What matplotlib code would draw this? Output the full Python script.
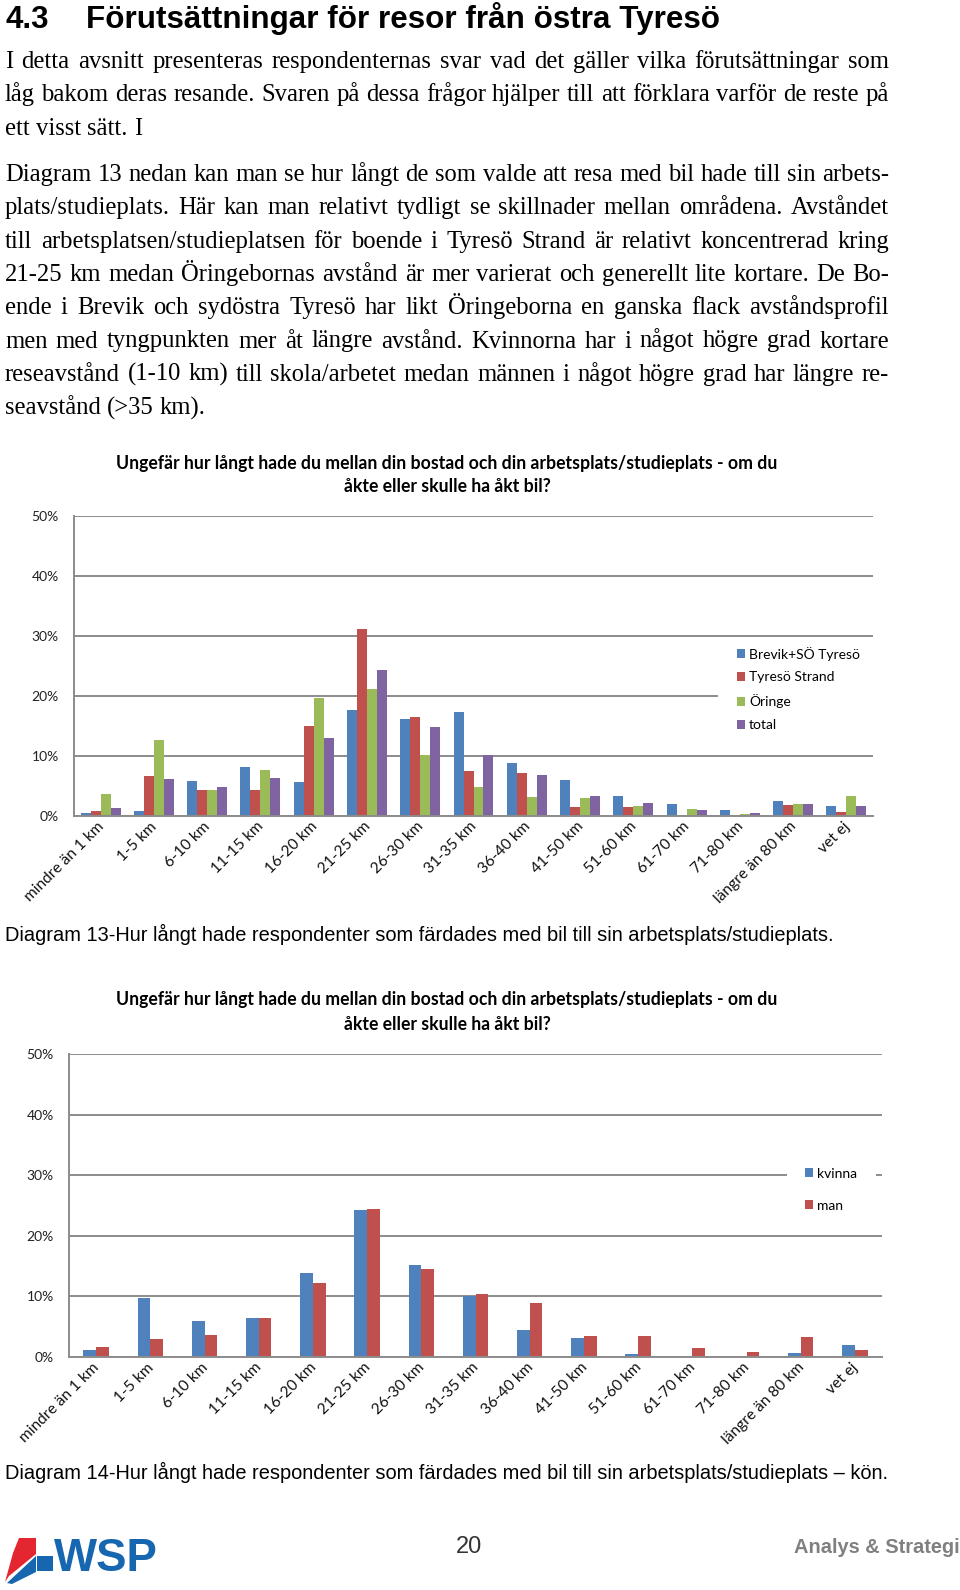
import numpy as np
import matplotlib
matplotlib.use("Agg")
import matplotlib.pyplot as plt
from matplotlib.patches import Polygon, Rectangle
from matplotlib.transforms import ScaledTranslation

categories = ["mindre än 1 km", "1-5 km", "6-10 km", "11-15 km", "16-20 km",
              "21-25 km", "26-30 km", "31-35 km", "36-40 km", "41-50 km",
              "51-60 km", "61-70 km", "71-80 km", "längre än 80 km", "vet ej"]

# diagram 13 (procent)
brevik = [0.55, 0.9, 5.9, 8.2, 5.6, 17.6, 16.2, 17.4, 8.9, 6.0, 3.3, 2.0, 1.05, 2.5, 1.65]
strand = [0.8, 6.7, 4.3, 4.4, 15.0, 31.1, 16.5, 7.5, 7.2, 1.55, 1.45, 0.0, 0.0, 1.85, 0.7]
oringe = [3.7, 12.6, 4.4, 7.7, 19.6, 21.2, 10.1, 4.9, 3.1, 3.05, 1.7, 1.2, 0.4, 2.05, 3.4]
total = [1.4, 6.2, 4.8, 6.4, 13.0, 24.3, 14.9, 10.1, 6.8, 3.3, 2.1, 0.95, 0.5, 2.0, 1.6]

# diagram 14 (procent)
kvinna = [1.1, 9.7, 6.0, 6.5, 13.8, 24.3, 15.1, 10.0, 4.4, 3.1, 0.55, 0.2, 0.2, 0.7, 2.0]
man = [1.7, 3.0, 3.7, 6.4, 12.2, 24.5, 14.6, 10.4, 8.9, 3.5, 3.4, 1.5, 0.8, 3.3, 1.2]

yticks = [0, 10, 20, 30, 40, 50]
ytick_labels = ["0%", "10%", "20%", "30%", "40%", "50%"]

chart_title = ["Ungefär hur långt hade du mellan din bostad och din arbetsplats/studieplats - om du",
               "åkte eller skulle ha åkt bil?"]

heading_nr = "4.3"
heading = "Förutsättningar för resor från östra Tyresö"
para1 = ["I detta avsnitt presenteras respondenternas svar vad det gäller vilka förutsättningar som",
         "låg bakom deras resande. Svaren på dessa frågor hjälper till att förklara varför de reste på",
         "ett visst sätt. I"]
para2 = ["Diagram 13 nedan kan man se hur långt de som valde att resa med bil hade till sin arbets-",
         "plats/studieplats. Här kan man relativt tydligt se skillnader mellan områdena. Avståndet",
         "till arbetsplatsen/studieplatsen för boende i Tyresö Strand är relativt koncentrerad kring",
         "21-25 km medan Öringebornas avstånd är mer varierat och generellt lite kortare. De Bo-",
         "ende i Brevik och sydöstra Tyresö har likt Öringeborna en ganska flack avståndsprofil",
         "men med tyngpunkten mer åt längre avstånd. Kvinnorna har i något högre grad kortare",
         "reseavstånd (1-10 km) till skola/arbetet medan männen i något högre grad har längre re-",
         "seavstånd (>35 km)."]
caption13 = "Diagram 13-Hur långt hade respondenter som färdades med bil till sin arbetsplats/studieplats."
caption14 = "Diagram 14-Hur långt hade respondenter som färdades med bil till sin arbetsplats/studieplats – kön."

BLUE, RED, GREEN, PURPLE = "#4F81BD", "#C0504D", "#9BBB59", "#8064A2"
GRID = "#8c8c8c"
W, H = 960, 1590

fig = plt.figure(figsize=(W / 100, H / 100), dpi=100)
page = fig.add_axes([0, 0, 1, 1])
page.set_xlim(0, W)
page.set_ylim(H, 0)
page.axis("off")
renderer = fig.canvas.get_renderer()


def wpx(t):
    return t.get_window_extent(renderer).width


def fit(t, width):
    t.set_fontsize(t.get_fontsize() * width / wpx(t))
    return t


def box(x0, x1, top, bottom):
    return [x0 / W, 1 - bottom / H, (x1 - x0) / W, (bottom - top) / H]


# ---- rubrik och brödtext
page.text(5, 28, heading_nr, fontsize=22.5, fontweight="bold", family="Liberation Sans", va="baseline")
fit(page.text(86, 28, heading, fontsize=22.5, fontweight="bold", family="Liberation Sans", va="baseline"), 631)

# storlek så att den tätaste raden precis fyller satsbredden
probe = page.text(0, 0, "", fontsize=18, family="Liberation Serif")
widest = 0
for line in para1[:-1] + para2[:-1]:
    probe.set_text(line)
    widest = max(widest, wpx(probe))
body_size = 18 * 880 / widest
probe.set_fontsize(body_size)
probe.set_text("a a")
w2 = wpx(probe)
probe.set_text("aa")
space = w2 - wpx(probe)
probe.remove()


def write_par(lines, y0, pitch=33.3, x0=5, x1=889):
    for k, line in enumerate(lines):
        y = y0 + k * pitch
        words = line.split(" ")
        ts = [page.text(0, y, w, fontsize=body_size, family="Liberation Serif", va="baseline") for w in words]
        widths = [wpx(t) for t in ts]
        last = k == len(lines) - 1
        gap = space if last else (x1 - x0 - sum(widths)) / (len(ts) - 1)
        x = x0
        for t, w in zip(ts, widths):
            t.set_x(x)
            x += w + gap


write_par(para1, 68)
write_par(para2, 181)


# ---- diagrammen
def chart(rect, series, colors, labels, bar_w, title_y, legend_rect, legend_xy, legend_space):
    ax = fig.add_axes(rect)
    x = np.arange(len(categories))
    n = len(series)
    for i, (vals, c, lab) in enumerate(zip(series, colors, labels)):
        ax.bar(x + (i - (n - 1) / 2) * bar_w, vals, bar_w, color=c, label=lab, zorder=2)
    ax.set_xlim(-0.5, len(categories) - 0.5)
    ax.set_ylim(0, 50)
    ax.set_yticks(yticks)
    ax.set_yticklabels(ytick_labels, family="Lato", fontsize=10, color="#222222")
    ax.set_xticks(x)
    ax.set_xticklabels(categories, rotation=45, ha="right", va="center", rotation_mode="anchor",
                       family="Lato", fontsize=11.2, color="#111111")
    ax.tick_params(length=0)
    ax.tick_params(axis="y", pad=11)
    ax.tick_params(axis="x", pad=6)
    for lab in ax.get_xticklabels():
        lab.set_transform(lab.get_transform() + ScaledTranslation(0.01, 0, fig.dpi_scale_trans))
    ax.grid(axis="y", color=GRID, lw=1.4, zorder=0)
    ax.set_axisbelow(True)
    for s in ["top", "right"]:
        ax.spines[s].set_visible(False)
    for s in ["left", "bottom"]:
        ax.spines[s].set_color(GRID)
        ax.spines[s].set_linewidth(1.4)
    # vit legendyta
    lx0, lx1, ly0, ly1 = legend_rect
    ax.add_patch(Rectangle((lx0, ly1), lx1 - lx0, ly0 - ly1, transform=page.transData,
                           facecolor="white", edgecolor="none", zorder=1))
    ax.legend(loc="upper left", bbox_to_anchor=(legend_xy[0] / W, 1 - legend_xy[1] / H),
              bbox_transform=fig.transFigure, frameon=False, prop={"family": "Lato", "size": 10},
              handlelength=0.6, handleheight=0.6, handletextpad=0.3, borderpad=0.4,
              borderaxespad=0, labelspacing=legend_space)
    for k, line in enumerate(chart_title):
        t = page.text(447, title_y + 24 * k, line, fontsize=12, fontweight="bold", family="Lato",
                      ha="center", va="center")
        if k == 0:
            fit(t, 655)
            tsize = t.get_fontsize()
        else:
            t.set_fontsize(tsize)
    return ax


chart(box(74, 873, 516, 816), [brevik, strand, oringe, total], [BLUE, RED, GREEN, PURPLE],
      ["Brevik+SÖ Tyresö", "Tyresö Strand", "Öringe", "total"], 0.1875, 463,
      (718, 878, 640, 738), (731, 641), 0.78)
chart(box(69, 882, 1054, 1357), [kvinna, man], [BLUE, RED], ["kvinna", "man"], 0.235, 1000,
      (787, 876, 1158, 1222), (799, 1162), 1.45)

# ---- bildtexter
fit(page.text(5, 934, caption13, fontsize=14, family="Liberation Sans", va="center"), 834)
fit(page.text(5, 1472, caption14, fontsize=14, family="Liberation Sans", va="center"), 888)

# ---- sidfot
page.add_patch(Polygon([(19, 1538), (36, 1538), (36, 1554), (9, 1576), (5, 1582), (13, 1553)],
                       closed=True, facecolor="#E3262F", edgecolor="none"))
page.add_patch(Polygon([(37, 1556), (53, 1556), (53, 1571), (37, 1571)],
                       closed=True, facecolor="#1767B0", edgecolor="none"))
page.add_patch(Polygon([(36, 1556), (36, 1572), (12, 1584), (7, 1583)],
                       closed=True, facecolor="#1767B0", edgecolor="none"))
fit(page.text(54, 1571, "WSP", fontsize=32, fontweight="bold", family="Liberation Sans",
              color="#1767B0", va="baseline"), 104)
page.text(469, 1553, "20", fontsize=17, family="Liberation Sans", color="#333333",
          ha="center", va="baseline")
fit(page.text(794, 1553, "Analys & Strategi", fontsize=15, fontweight="bold",
              family="Liberation Sans", color="#808080", va="baseline"), 166)

fig.savefig("out.png", dpi=100)
